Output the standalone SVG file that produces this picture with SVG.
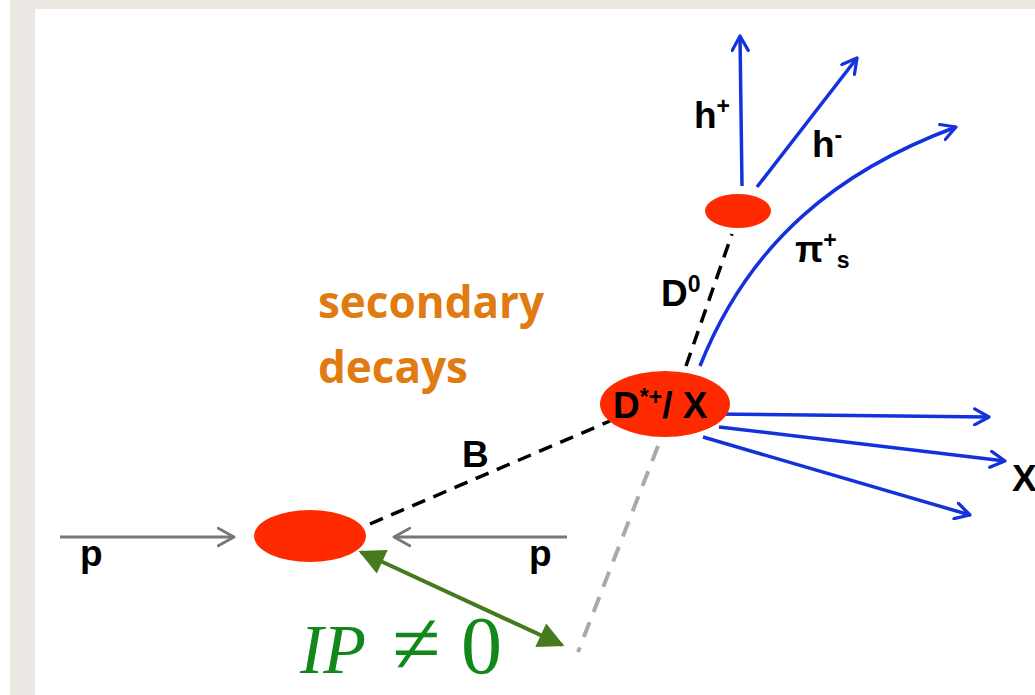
<svg xmlns="http://www.w3.org/2000/svg" width="1035" height="695" viewBox="0 0 1035 695">
<style>
.lbl{font-family:"Liberation Sans",Arial,sans-serif;font-weight:bold;fill:#000;font-size:37px}
.sup{font-size:23px}
.blue{stroke:#1432dc;stroke-width:3.5;fill:none;marker-end:url(#vb)}
.vtx{fill:#ff2a00}
.ip{font-family:"Liberation Serif","DejaVu Serif",serif;font-size:70px;fill:#13881a}
</style>
<defs>
<marker id="vb" viewBox="0 0 12 12" refX="10" refY="6" markerWidth="5.5" markerHeight="5.5" orient="auto" markerUnits="strokeWidth"><path d="M1,1 L10,6 L1,11" fill="none" stroke="#1432dc" stroke-width="2" stroke-linecap="round" stroke-linejoin="round"/></marker>
<marker id="vg" viewBox="0 0 12 12" refX="10" refY="6" markerWidth="7" markerHeight="7" orient="auto" markerUnits="strokeWidth"><path d="M1,1 L10,6 L1,11" fill="none" stroke="#777" stroke-width="1.6" stroke-linecap="round" stroke-linejoin="round"/></marker>
<marker id="tg" viewBox="0 0 10 10" refX="9" refY="5" markerWidth="8" markerHeight="6.5" orient="auto" markerUnits="strokeWidth"><path d="M0,0 L10,5 L0,10 Z" fill="#467a1e"/></marker>
<marker id="tgs" viewBox="0 0 10 10" refX="1" refY="5" markerWidth="8" markerHeight="6.5" orient="auto" markerUnits="strokeWidth"><path d="M10,0 L0,5 L10,10 Z" fill="#467a1e"/></marker>
</defs>
<rect x="0" y="0" width="1035" height="695" fill="#ffffff"/>
<rect x="10" y="0" width="1025" height="695" fill="#ebe8e3"/>
<rect x="35" y="9" width="1000" height="686" fill="#ffffff"/>
<g id="connectors">
<line x1="60" y1="537" x2="234" y2="537" stroke="#777" stroke-width="3" marker-end="url(#vg)"/>
<line x1="567" y1="537" x2="394" y2="537" stroke="#777" stroke-width="3" marker-end="url(#vg)"/>
<line x1="370" y1="524" x2="610" y2="421" stroke="#000" stroke-width="3.5" stroke-dasharray="14,9"/>
<line x1="686" y1="366" x2="732" y2="234" stroke="#000" stroke-width="3.5" stroke-dasharray="14,9"/>
<line x1="658" y1="446" x2="578" y2="652" stroke="#aaa" stroke-width="4" stroke-dasharray="16,11"/>
<line x1="742" y1="186" x2="740" y2="36" class="blue"/>
<line x1="757" y1="187" x2="857" y2="58" class="blue"/>
<path d="M700,366 C750,240 840,170 956,127" class="blue"/>
<line x1="714" y1="414" x2="989" y2="417" class="blue"/>
<line x1="719" y1="427" x2="1005" y2="461" class="blue"/>
<line x1="703" y1="437" x2="970" y2="515" class="blue"/>
<line x1="361" y1="552" x2="562" y2="645" stroke="#467a1e" stroke-width="4" marker-start="url(#tgs)" marker-end="url(#tg)"/>
</g>
<g id="pv"><ellipse class="vtx" cx="310" cy="536" rx="56" ry="26"/></g>
<g id="dstar"><ellipse class="vtx" cx="665" cy="404" rx="65" ry="33"/>
<text class="lbl" x="613" y="418" font-size="38">D<tspan class="sup" dy="-13">*+</tspan><tspan dy="13">/ X</tspan></text></g>
<g id="d0"><ellipse class="vtx" cx="738" cy="211" rx="33" ry="17"/></g>
<g id="labels">
<text class="lbl" x="80" y="566">p</text>
<text class="lbl" x="529" y="566">p</text>
<text class="lbl" x="462" y="467">B</text>
<text class="lbl" x="661" y="306">D<tspan class="sup" dy="-14">0</tspan></text>
<text class="lbl" x="694" y="128">h<tspan class="sup" dy="-14">+</tspan></text>
<text class="lbl" x="812" y="157">h<tspan class="sup" dy="-14">-</tspan></text>
<text class="lbl" x="795" y="262">π<tspan class="sup" dy="-14">+</tspan><tspan class="sup" dy="20">s</tspan></text>
<text class="lbl" x="1012" y="491">X</text>
<text x="318" y="318" font-family="'Open Sans','Liberation Sans',sans-serif" font-weight="bold" font-size="44" fill="#e07b12">secondary</text>
<text x="318" y="383" font-family="'Open Sans','Liberation Sans',sans-serif" font-weight="bold" font-size="44" fill="#e07b12">decays</text>
<text class="ip" x="300" y="673"><tspan font-style="italic">IP</tspan><tspan x="392" font-size="88">≠</tspan><tspan x="461" font-size="82">0</tspan></text>
</g>
</svg>
